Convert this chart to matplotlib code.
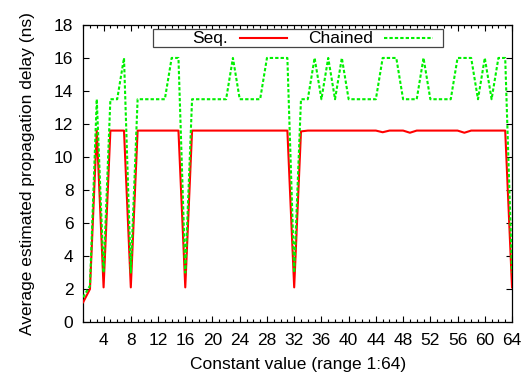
"""
Average estimated propagation delay vs. constant value (range 1:64).
Sequential vs. chained implementation, gnuplot-like styling.
"""

import matplotlib
matplotlib.use('Agg')
import matplotlib.pyplot as plt
from matplotlib.lines import Line2D
from matplotlib.patches import Rectangle
from matplotlib.ticker import MultipleLocator

plt.rcParams['font.family'] = ['Liberation Sans', 'DejaVu Sans']

# constant values 1..64
const_values = list(range(1, 65))

# sequential delay (ns)
seq_delay = [
    1.2, 2.0, 11.6, 2.1, 11.6, 11.6, 11.6, 2.1,                  # 1-8
    11.6, 11.6, 11.6, 11.6, 11.6, 11.6, 11.6, 2.1,               # 9-16
    11.6, 11.6, 11.6, 11.6, 11.6, 11.6, 11.6, 11.6,              # 17-24
    11.6, 11.6, 11.6, 11.6, 11.6, 11.6, 11.6, 2.1,               # 25-32
    11.55, 11.6, 11.6, 11.6, 11.6, 11.6, 11.6, 11.6,             # 33-40
    11.6, 11.6, 11.6, 11.6, 11.5, 11.6, 11.6, 11.6,              # 41-48
    11.47, 11.6, 11.6, 11.6, 11.6, 11.6, 11.6, 11.6,             # 49-56
    11.47, 11.6, 11.6, 11.6, 11.6, 11.6, 11.6, 2.1,              # 57-64
]

# chained delay (ns)
chained_delay = [
    1.5, 2.2, 13.5, 3.0, 13.5, 13.5, 16.0, 3.0,                  # 1-8
    13.5, 13.5, 13.5, 13.5, 13.5, 16.0, 16.0, 3.0,               # 9-16
    13.5, 13.5, 13.5, 13.5, 13.5, 13.5, 16.0, 13.5,              # 17-24
    13.5, 13.5, 13.5, 16.0, 16.0, 16.0, 16.0, 3.0,               # 25-32
    13.5, 13.5, 16.0, 13.5, 16.0, 13.5, 16.0, 13.5,              # 33-40
    13.5, 13.5, 13.5, 13.5, 16.0, 16.0, 16.0, 13.5,              # 41-48
    13.5, 13.5, 16.0, 13.5, 13.5, 13.5, 13.5, 16.0,              # 49-56
    16.0, 16.0, 13.5, 16.0, 13.5, 16.0, 16.0, 3.0,               # 57-64
]

x_ticks = list(range(4, 65, 4))
y_ticks = list(range(0, 19, 2))

FS = 12.5


def make_figure():
    fig = plt.figure(figsize=(5.23, 3.78), dpi=100)
    ax = fig.add_axes([0.159, 0.148, 0.820, 0.786])

    ax.plot(const_values, seq_delay, color='#ff0000', lw=1.5, zorder=3)
    ax.plot(const_values, chained_delay, color='#00f000', lw=1.5,
            dashes=(1.6, 1.0), zorder=4)

    ax.set_xlim(1, 64)
    ax.set_ylim(0, 18)
    ax.set_xticks(x_ticks)
    ax.set_yticks(y_ticks)
    ax.xaxis.set_minor_locator(MultipleLocator(1))

    ax.tick_params(which='both', direction='in', top=True, right=True,
                   labelsize=FS, width=0.8)
    ax.tick_params(which='major', length=4)
    ax.tick_params(which='minor', length=2)
    ax.tick_params(axis='x', pad=8)
    ax.tick_params(axis='y', pad=7)
    for sp in ax.spines.values():
        sp.set_linewidth(0.9)

    ax.set_xlabel('Constant value (range 1:64)', fontsize=FS, labelpad=6)
    ax.set_ylabel('Average estimated propagation delay (ns)', fontsize=FS,
                  labelpad=14)

    # gnuplot-style key box
    tr = ax.transAxes
    ax.add_patch(Rectangle((0.1626, 0.926), 0.6764, 0.0605, transform=tr,
                           facecolor='white', edgecolor='#444444', lw=0.9,
                           zorder=5, clip_on=False))
    ax.text(0.338, 0.955, 'Seq.', transform=tr, ha='right', va='center',
            fontsize=FS, zorder=6)
    ax.add_line(Line2D([0.3655, 0.4746], [0.956, 0.956], transform=tr,
                       color='#ff0000', lw=1.5, zorder=6))
    ax.text(0.6757, 0.955, 'Chained', transform=tr, ha='right', va='center',
            fontsize=FS, zorder=6)
    ax.add_line(Line2D([0.7014, 0.8156], [0.956, 0.956], transform=tr,
                       color='#00f000', lw=1.5, dashes=(1.6, 1.0), zorder=6))
    return fig


if __name__ == '__main__':
    fig = make_figure()
    fig.savefig('out.png', dpi=100, facecolor='white')
    plt.close(fig)
